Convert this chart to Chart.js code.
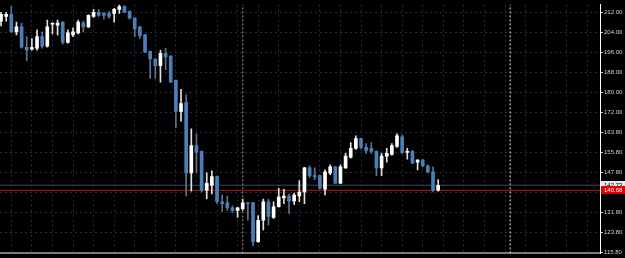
<!DOCTYPE html>
<html>
<head>
<meta charset="utf-8">
<script src="https://cdn.jsdelivr.net/npm/chart.js@4/dist/chart.umd.min.js"></script>
<style>
  html, body { margin: 0; padding: 0; background: #000; }
</style>
</head>
<body>
<canvas id="myChart" width="625" height="258"></canvas>
<script>
// Candle data, one entry per bar, oldest first
var candleOpen = [208.5, 210.4, 211.2, 204.2, 206.2, 198.0, 197.2, 197.6, 202.3, 198.4,
  207.3, 206.9, 208.1, 199.9, 203.0, 203.8, 207.7, 206.2, 210.4, 212.0,
  211.6, 211.6, 211.6, 213.2, 214.3, 212.4, 209.7, 206.2, 203.0, 196.4,
  193.3, 190.6, 195.6, 194.5, 184.8, 172.3, 175.8, 147.7, 158.6, 156.3,
  140.7, 142.7, 146.2, 136.1, 135.7, 133.7, 132.6, 133.3, 135.7, 135.7,
  120.1, 128.7, 136.1, 129.8, 134.1, 137.6, 138.4, 136.4, 138.4, 140.0,
  149.7, 146.6, 146.6, 141.1, 147.7, 150.1, 143.5, 149.7, 154.0, 157.5,
  161.4, 157.9, 157.5, 156.3, 149.7, 154.4, 155.1, 158.3, 162.1, 155.9,
  156.3, 152.0, 152.8, 150.5, 148.1, 140.7];
var candleHigh = [212.0, 212.0, 214.3, 208.1, 207.7, 202.3, 201.5, 205.0, 204.2, 208.9,
  207.7, 208.9, 208.3, 205.0, 205.8, 208.9, 208.5, 211.0, 213.2, 213.2,
  212.0, 212.4, 213.6, 215.0, 214.7, 212.6, 209.9, 206.4, 203.2, 196.6,
  193.5, 196.8, 197.6, 194.7, 185.0, 181.2, 178.9, 165.3, 163.3, 156.5,
  147.7, 148.5, 146.4, 138.8, 138.4, 134.5, 133.9, 137.2, 135.9, 135.9,
  130.6, 137.2, 137.2, 136.1, 141.5, 141.1, 139.2, 139.6, 144.6, 149.9,
  150.5, 149.7, 146.8, 148.9, 150.9, 150.3, 150.9, 155.5, 159.8, 162.5,
  161.6, 159.4, 159.8, 156.5, 155.5, 157.5, 159.4, 163.3, 162.9, 157.5,
  156.7, 153.0, 153.2, 150.9, 150.1, 145.0];
var candleLow = [206.6, 208.5, 204.0, 203.0, 197.6, 192.5, 196.8, 196.8, 197.6, 198.0,
  203.4, 203.0, 199.2, 199.6, 202.3, 203.4, 204.2, 206.0, 210.0, 210.4,
  209.3, 209.7, 208.1, 211.6, 211.8, 209.3, 202.3, 201.5, 195.8, 185.5,
  185.5, 184.0, 189.0, 183.8, 165.7, 168.4, 138.4, 140.3, 147.7, 140.0,
  137.2, 139.2, 135.3, 132.2, 132.6, 131.8, 129.8, 132.6, 128.7, 118.5,
  119.8, 124.8, 126.7, 129.4, 133.9, 135.3, 131.4, 134.9, 136.1, 135.3,
  145.8, 145.0, 141.1, 138.8, 147.0, 143.3, 143.3, 149.5, 153.6, 157.1,
  157.3, 155.5, 155.5, 146.6, 146.6, 152.0, 154.8, 157.9, 155.5, 153.2,
  151.4, 148.9, 150.1, 147.7, 140.0, 140.3];
var candleClose = [211.2, 211.2, 204.2, 206.2, 198.0, 196.8, 198.0, 202.3, 198.4, 206.2,
  207.4, 207.7, 199.9, 203.8, 204.2, 208.1, 206.2, 210.8, 212.0, 210.8,
  210.8, 210.4, 213.2, 214.3, 212.0, 209.7, 205.4, 202.7, 196.0, 193.3,
  190.6, 195.6, 194.1, 184.0, 172.3, 175.4, 147.7, 158.6, 155.9, 140.7,
  143.5, 146.2, 136.1, 135.3, 133.7, 132.6, 133.7, 135.7, 135.4, 120.1,
  128.7, 136.1, 130.2, 134.1, 138.0, 138.4, 136.4, 138.8, 140.0, 149.7,
  146.6, 146.2, 141.5, 148.1, 150.1, 143.5, 150.1, 154.4, 157.5, 161.4,
  157.9, 156.7, 156.3, 149.7, 154.4, 155.5, 158.6, 162.5, 155.9, 156.0,
  151.6, 152.8, 150.5, 148.1, 140.7, 142.73];

// Price axis labels
var yTicks = [115.8, 123.8, 131.8, 139.8, 147.8, 155.8, 163.8, 172, 180, 188, 196, 204, 212];

// Horizontal lines: bid and the red level
var bidPrice = 142.73;
var levelPrice = 140.68;

// Period separators (bar index)
var separators = [47, 99];

// Visible range
var xMin = -0.2, xMax = 116.47;
var yMin = 115.41, yMax = 215.1;

var gridColor = "#242c4a";
var bullColor = "#ffffff";
var bearColor = "#4a80b8";
var labelFont = "'Liberation Sans', Arial, sans-serif";

var idx = candleOpen.map(function (_, i) { return i; });
var isUp = idx.map(function (i) { return candleClose[i] >= candleOpen[i]; });

var xGrid = [];
for (var g = 2; g < xMax; g += 4) xGrid.push(g);

// Price tags drawn on the right axis
var priceTags = {
  id: "priceTags",
  afterDraw: function (chart) {
    var ctx = chart.ctx;
    var ys = chart.scales.y;
    var left = chart.chartArea.right + 1;
    function tag(value, bg, fg) {
      var y = Math.round(ys.getPixelForValue(value));
      ctx.fillStyle = bg;
      ctx.fillRect(left, y - 4, 625 - left, 8);
      ctx.fillStyle = fg;
      ctx.font = "6px " + labelFont;
      ctx.textBaseline = "middle";
      ctx.fillText(value.toFixed(2), left + 3, y + 0.5);
    }
    tag(bidPrice, "#e8e8e8", "#000000");
    tag(levelPrice, "#e00000", "#ffffff");
  }
};

var ctx = document.getElementById("myChart").getContext("2d");

var datasets = [
  {
    type: "bar",
    order: 0,
    grouped: false,
    data: idx.map(function (i) { return { x: i, y: [candleOpen[i], candleClose[i]] }; }),
    backgroundColor: idx.map(function (i) { return isUp[i] ? bullColor : bearColor; }),
    borderWidth: 0,
    barThickness: 3,
    minBarLength: 1
  },
  {
    type: "bar",
    order: 1,
    grouped: false,
    data: idx.map(function (i) { return { x: i, y: [candleLow[i], candleHigh[i]] }; }),
    backgroundColor: idx.map(function (i) { return isUp[i] ? "#e0e0e0" : "#5f738c"; }),
    borderWidth: 0,
    barThickness: 1
  },
  {
    type: "line",
    order: 2,
    data: [{ x: xMin, y: bidPrice }, { x: xMax, y: bidPrice }],
    borderColor: "#3a4466",
    borderWidth: 1,
    pointRadius: 0
  },
  {
    type: "line",
    order: 2,
    data: [{ x: xMin, y: levelPrice }, { x: xMax, y: levelPrice }],
    borderColor: "#b01818",
    borderWidth: 1,
    pointRadius: 0
  }
];

separators.forEach(function (s, k) {
  datasets.push({
    type: "line",
    order: 3,
    data: [{ x: s, y: yMin }, { x: s, y: yMax }],
    borderColor: k === 0 ? "#9a9a9a" : "#e8e8e8",
    borderWidth: 1,
    borderDash: [2, 2],
    pointRadius: 0
  });
});

var myChart = new Chart(ctx, {
  type: "bar",
  data: { datasets: datasets },
  options: {
    responsive: false,
    animation: false,
    layout: { padding: 0 },
    plugins: {
      legend: { display: false },
      tooltip: { enabled: false }
    },
    scales: {
      x: {
        type: "linear",
        min: xMin,
        max: xMax,
        offset: false,
        afterBuildTicks: function (s) { s.ticks = xGrid.map(function (v) { return { value: v }; }); },
        afterFit: function (s) { s.height = 2; },
        ticks: { display: false },
        grid: { color: gridColor, drawTicks: false, offset: false },
        border: { display: true, color: "#7a7a7a", width: 2, dash: [2, 3] }
      },
      y: {
        type: "linear",
        position: "right",
        min: yMin,
        max: yMax,
        afterBuildTicks: function (s) { s.ticks = yTicks.map(function (v) { return { value: v }; }); },
        afterFit: function (s) { s.width = 25; },
        ticks: {
          autoSkip: false,
          color: "#d0d0d0",
          padding: 1,
          font: { family: labelFont, size: 6 },
          callback: function (v) { return Number(v).toFixed(2); }
        },
        grid: { color: gridColor, tickLength: 3, tickColor: "#c8c8c8", tickBorderDash: [] },
        border: { display: true, color: "#ffffff", width: 1, dash: [2, 3] }
      }
    }
  },
  plugins: [priceTags]
});
</script>
</body>
</html>
